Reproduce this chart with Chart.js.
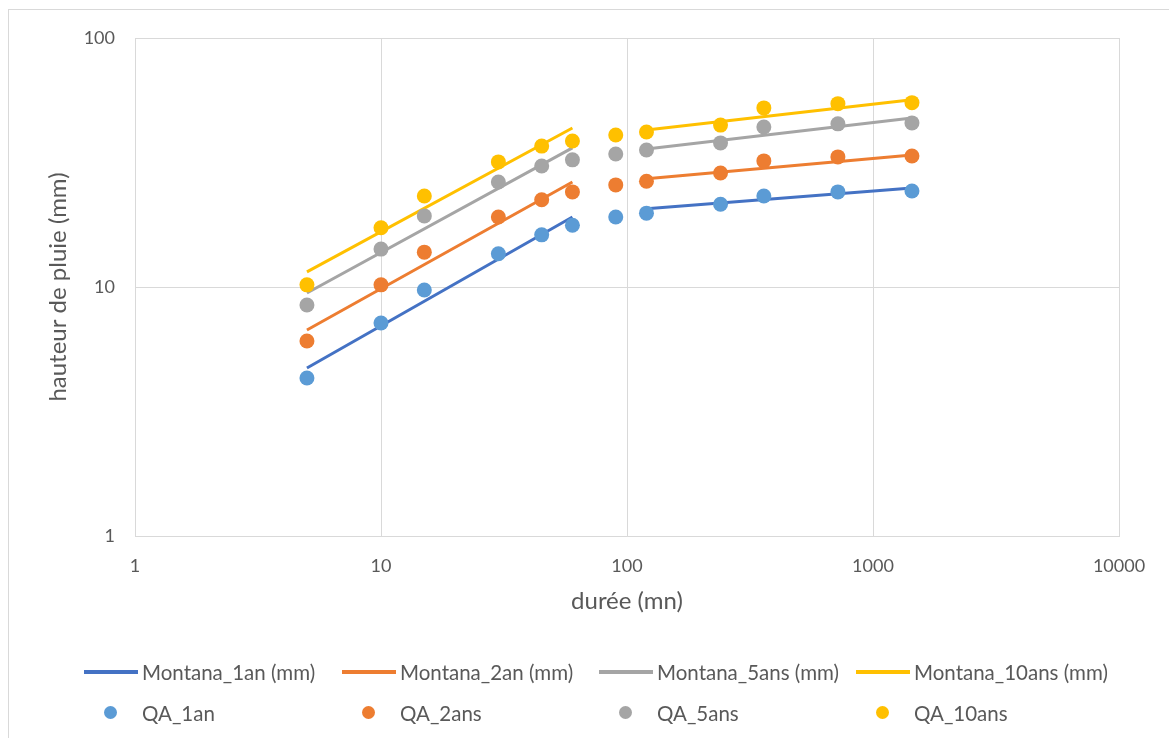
<!DOCTYPE html>
<html lang="fr">
<head>
  <meta charset="UTF-8">
  <title>Montana / QA</title>
  <script src="https://cdn.jsdelivr.net/npm/chart.js"></script>
  <style>
    body { margin: 0; background: #fff; font-family: Lato, sans-serif; }
    #wrap { position: relative; width: 1169px; height: 738px; overflow: hidden; }
    #frame { position: absolute; left: 8px; top: 9px; width: 1200px; height: 800px; border: 1px solid #d9d9d9; }
    canvas { position: absolute; left: 0; top: 0; }
    .leg { position: absolute; font-size: 20.5px; color: #595959; white-space: nowrap; line-height: 24px; }
    .leg i { position: absolute; display: block; }
  </style>
</head>
<body>
<div id="wrap">
  <div id="frame"></div>
  <canvas id="chart" width="1169" height="738"></canvas>
  <div id="legend"></div>
</div>
<script>
// durée (mn)
const durations = [5, 10, 15, 30, 45, 60, 90, 120, 240, 360, 720, 1440];

// hauteurs observées (mm)
const qa1an   = [4.31, 7.17, 9.72, 13.6, 16.2, 17.7, 19.1, 19.8, 21.5, 23.2, 24.1, 24.3];
const qa2ans  = [6.07, 10.2, 13.8, 19.1, 22.4, 24.1, 25.7, 26.6, 28.7, 32.1, 33.3, 33.6];
const qa5ans  = [8.47, 14.2, 19.3, 26.4, 30.6, 32.4, 34.2, 35.5, 37.9, 43.9, 45.2, 45.6];
const qa10ans = [10.2, 17.3, 23.2, 31.8, 36.8, 38.6, 40.8, 41.9, 44.7, 52.4, 54.5, 55.0];

// Montana : deux tronçons (5-60 et 120-1440), coupure à 90
const montanaX       = [5, 60, 90, 120, 1440];
const montana1an     = [4.73, 19.1, null, 20.6, 25.0];
const montana2an     = [6.72, 26.4, null, 27.2, 33.9];
const montana5ans    = [9.46, 36.2, null, 35.8, 47.7];
const montana10ans   = [11.5, 43.5, null, 42.7, 56.5];

const xTicks = [1, 10, 100, 1000, 10000];
const yTicks = [1, 10, 100];

const pts = (xs, ys) => xs.map((x, i) => ({x: x, y: ys[i]}));

const lineSets = [
  {label: 'Montana_1an (mm)', data: montana1an, color: '#4472C4'},
  {label: 'Montana_2an (mm)', data: montana2an, color: '#ED7D31'},
  {label: 'Montana_5ans (mm)', data: montana5ans, color: '#A5A5A5'},
  {label: 'Montana_10ans (mm)', data: montana10ans, color: '#FFC000'}
];
const dotSets = [
  {label: 'QA_1an', data: qa1an, color: '#5B9BD5'},
  {label: 'QA_2ans', data: qa2ans, color: '#ED7D31'},
  {label: 'QA_5ans', data: qa5ans, color: '#A5A5A5'},
  {label: 'QA_10ans', data: qa10ans, color: '#FFC000'}
];

const datasets = [];
lineSets.forEach((s, i) => {
  datasets.push({
    label: s.label,
    data: pts(montanaX, s.data),
    showLine: true,
    spanGaps: false,
    borderColor: s.color,
    backgroundColor: s.color,
    borderWidth: 3,
    pointRadius: 0,
    order: 7 - i
  });
});
dotSets.forEach((s, i) => {
  datasets.push({
    label: s.label,
    data: pts(durations, s.data),
    showLine: false,
    backgroundColor: s.color,
    borderWidth: 0,
    pointRadius: 7.5,
    order: 3 - i
  });
});

const gridColor = '#d9d9d9';
const tickFont = {family: 'Lato', size: 18};
const titleFont = {family: 'Lato', size: 24};

new Chart(document.getElementById('chart').getContext('2d'), {
  type: 'scatter',
  data: {datasets: datasets},
  options: {
    responsive: false,
    animation: false,
    layout: {padding: {left: 40, top: 38, right: 50, bottom: 118}},
    plugins: {legend: {display: false}, tooltip: {enabled: false}},
    scales: {
      x: {
        type: 'logarithmic',
        min: 1, max: 10000,
        afterBuildTicks: s => { s.ticks = xTicks.map(v => ({value: v})); },
        afterFit: s => { s.height = 84; },
        grid: {color: gridColor, drawTicks: false, lineWidth: 1},
        border: {color: gridColor},
        ticks: {padding: 19, color: '#595959', font: tickFont, maxRotation: 0, callback: v => String(v)},
        title: {display: true, text: 'durée (mn)', color: '#595959', font: titleFont, padding: {top: 0, bottom: 4}}
      },
      y: {
        type: 'logarithmic',
        min: 1, max: 100,
        afterBuildTicks: s => { s.ticks = yTicks.map(v => ({value: v})); },
        afterFit: s => { s.width = 95; },
        grid: {color: gridColor, drawTicks: false, lineWidth: 1},
        border: {color: gridColor},
        ticks: {padding: 20, color: '#595959', font: tickFont, callback: v => String(v)},
        title: {display: true, text: 'hauteur de pluie (mm)', color: '#595959', font: titleFont, padding: {top: 4, bottom: 0}}
      }
    }
  }
});

// légende façon tableur, 4 colonnes
const legendCols = [142, 400, 657, 914];
const legend = document.getElementById('legend');
lineSets.forEach((s, i) => {
  const d = document.createElement('div');
  d.className = 'leg';
  d.style.left = legendCols[i] + 'px';
  d.style.top = '660px';
  d.innerHTML = '<i style="left:-58px;top:10px;width:54px;height:4px;background:' + s.color + '"></i>' + s.label;
  legend.appendChild(d);
});
dotSets.forEach((s, i) => {
  const d = document.createElement('div');
  d.className = 'leg';
  d.style.left = legendCols[i] + 'px';
  d.style.top = '701px';
  d.innerHTML = '<i style="left:-38px;top:5px;width:13px;height:13px;border-radius:50%;background:' + s.color + '"></i>' + s.label;
  legend.appendChild(d);
});
</script>
</body>
</html>
